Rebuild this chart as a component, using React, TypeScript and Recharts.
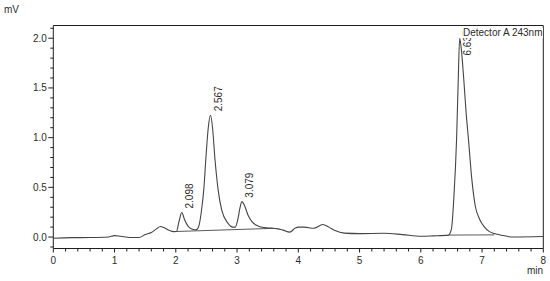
import { ComposedChart, Line, Scatter, XAxis, YAxis, ReferenceLine } from 'recharts';

// retention time (min) and detector signal (mV)
const times = [
  0, 0.3, 0.6, 0.9, 1.0, 1.1, 1.25, 1.4, 1.5, 1.6, 1.68, 1.75, 1.82, 1.9, 1.96,
  2.01, 2.05, 2.098, 2.14, 2.2, 2.26, 2.31, 2.34, 2.38, 2.42, 2.46, 2.49, 2.53, 2.567,
  2.6, 2.64, 2.69, 2.75, 2.85, 2.93, 2.97, 3.02, 3.05, 3.079, 3.12, 3.18, 3.25, 3.35,
  3.45, 3.55, 3.65, 3.75, 3.86, 3.95, 4.0, 4.1, 4.25, 4.4, 4.5, 4.6, 4.75, 5.0, 5.4,
  5.7, 6.0, 6.2, 6.45, 6.5, 6.54, 6.585, 6.61, 6.635, 6.66, 6.7, 6.74, 6.78, 6.83,
  6.89, 6.96, 7.04, 7.12, 7.2, 7.35, 7.5, 8.0,
];
const signal = [
  -0.012, -0.006, -0.005, 0.0, 0.015, 0.008, -0.004, -0.004, 0.025, 0.045, 0.08, 0.106, 0.09, 0.065, 0.055,
  0.056, 0.15, 0.247, 0.18, 0.11, 0.08, 0.073, 0.075, 0.12, 0.27, 0.5, 0.78, 1.1, 1.225,
  1.1, 0.78, 0.48, 0.27, 0.14, 0.1, 0.1, 0.2, 0.3, 0.356, 0.32, 0.22, 0.15, 0.11,
  0.095, 0.09, 0.085, 0.07, 0.05, 0.09, 0.1, 0.1, 0.088, 0.126, 0.1, 0.065, 0.04, 0.035, 0.038,
  0.025, 0.008, 0.012, 0.02, 0.08, 0.4, 1.0, 1.55, 2.0, 1.9, 1.6, 1.25, 0.97, 0.6,
  0.31, 0.18, 0.1, 0.055, 0.035, 0.015, 0.0, 0.005,
];

// integration baselines drawn under the peaks
const baseA_t = [2.01, 3.6];
const baseA_v = [0.056, 0.088];
const baseB_t = [6.45, 7.2];
const baseB_v = [0.02, 0.022];

// peak apex labels
const peakTimes = [2.098, 2.567, 3.079, 6.635];
const peakHeights = [0.247, 1.225, 0.356, 2.0];
const peakLabels = ['2.098', '2.567', '3.079', '6.635'];

const xTicks = [
  0, 0.2, 0.4, 0.6, 0.8, 1, 1.2, 1.4, 1.6, 1.8, 2, 2.2, 2.4, 2.6, 2.8, 3, 3.2, 3.4, 3.6, 3.8,
  4, 4.2, 4.4, 4.6, 4.8, 5, 5.2, 5.4, 5.6, 5.8, 6, 6.2, 6.4, 6.6, 6.8, 7, 7.2, 7.4, 7.6, 7.8, 8,
];
const yTicks = [
  -0.1, 0, 0.1, 0.2, 0.3, 0.4, 0.5, 0.6, 0.7, 0.8, 0.9, 1, 1.1, 1.2, 1.3, 1.4, 1.5,
  1.6, 1.7, 1.8, 1.9, 2, 2.1,
];
const yMin = -0.115;
const yMax = 2.128;
const xMax = 8;

const trace = times.map((t, i) => ({ t, v: signal[i] }));
const baseA = baseA_t.map((t, i) => ({ t, v: baseA_v[i] }));
const baseB = baseB_t.map((t, i) => ({ t, v: baseB_v[i] }));
const peaks = peakTimes.map((t, i) => ({ t, v: peakHeights[i], label: peakLabels[i] }));

const font = '"Liberation Sans", Arial, sans-serif';
const ink = '#2b2b2b';
const axisColor = '#1e1e1e';
const PLOT_TOP = 25.5;

const XTick = (props: any) => {
  const { x, y, payload } = props;
  const v = payload.value;
  const major = Math.abs(v - Math.round(v)) < 1e-6;
  return (
    <g>
      <line x1={x} x2={x} y1={y} y2={y + (major ? 4 : 3)} stroke={axisColor} />
      {major && (
        <text x={x} y={y + 15} textAnchor="middle" fontSize={10} fontFamily={font} fill={ink}>
          {Math.round(v)}
        </text>
      )}
    </g>
  );
};

const YTick = (props: any) => {
  const { x, y, payload } = props;
  const v = payload.value;
  const major = Math.abs(v * 2 - Math.round(v * 2)) < 1e-6;
  return (
    <g>
      <line x1={x} x2={x - (major ? 5 : 3)} y1={y} y2={y} stroke={axisColor} />
      {major && (
        <text x={x - 6.5} y={y + 3.5} textAnchor="end" fontSize={10} fontFamily={font} fill={ink}>
          {v.toFixed(1)}
        </text>
      )}
    </g>
  );
};

// rotated apex label, pushed down when it would run past the top frame
const PeakLabel = (props: any) => {
  const { cx, cy, payload } = props;
  const by = Math.max(cy - 4, PLOT_TOP + 30);
  return (
    <text
      transform={`translate(${cx + 7.5},${by}) rotate(-90)`}
      textAnchor="start"
      dominantBaseline="central"
      fontSize={10}
      fontFamily={font}
      fill={ink}
    >
      {payload.label}
    </text>
  );
};

const App = () => {
  return (
    <div style={{ position: 'absolute', left: 0, top: 0, width: 550, height: 281, background: '#fff' }}>
      <ComposedChart
        width={550}
        height={281}
        margin={{ top: PLOT_TOP, right: 6.7, left: 0, bottom: 0 }}
      >
        <XAxis
          type="number"
          dataKey="t"
          domain={[0, xMax]}
          ticks={xTicks}
          tick={<XTick />}
          tickLine={false}
          tickSize={0}
          tickMargin={0}
          height={32.5}
          axisLine={{ stroke: axisColor }}
          allowDataOverflow
          interval={0}
        />
        <YAxis
          type="number"
          domain={[yMin, yMax]}
          ticks={yTicks}
          tick={<YTick />}
          tickLine={false}
          tickSize={0}
          tickMargin={0}
          width={53.3}
          axisLine={{ stroke: axisColor }}
          allowDataOverflow
          interval={0}
        />
        <ReferenceLine y={yMax} stroke={axisColor} />
        <ReferenceLine x={xMax} stroke={axisColor} />
        <Line data={baseA} dataKey="v" type="linear" stroke="#5a5a5a" dot={false} isAnimationActive={false} />
        <Line data={baseB} dataKey="v" type="linear" stroke="#5a5a5a" dot={false} isAnimationActive={false} />
        <Line data={trace} dataKey="v" type="monotone" stroke="#444" strokeWidth={1.1} dot={false} isAnimationActive={false} />
        <Scatter data={peaks} dataKey="v" shape={<PeakLabel />} isAnimationActive={false} />
      </ComposedChart>
      <span style={{ position: 'absolute', left: 4, top: 5, fontFamily: font, fontSize: 10, lineHeight: '10px', color: ink }}>mV</span>
      <span style={{ position: 'absolute', left: 527, top: 266, fontFamily: font, fontSize: 10, lineHeight: '10px', color: ink }}>min</span>
      <span style={{ position: 'absolute', left: 463, top: 28, fontFamily: font, fontSize: 10, lineHeight: '10px', color: ink, background: '#fff', whiteSpace: 'nowrap' }}>
        Detector A 243nm
      </span>
    </div>
  );
};

export default App;
